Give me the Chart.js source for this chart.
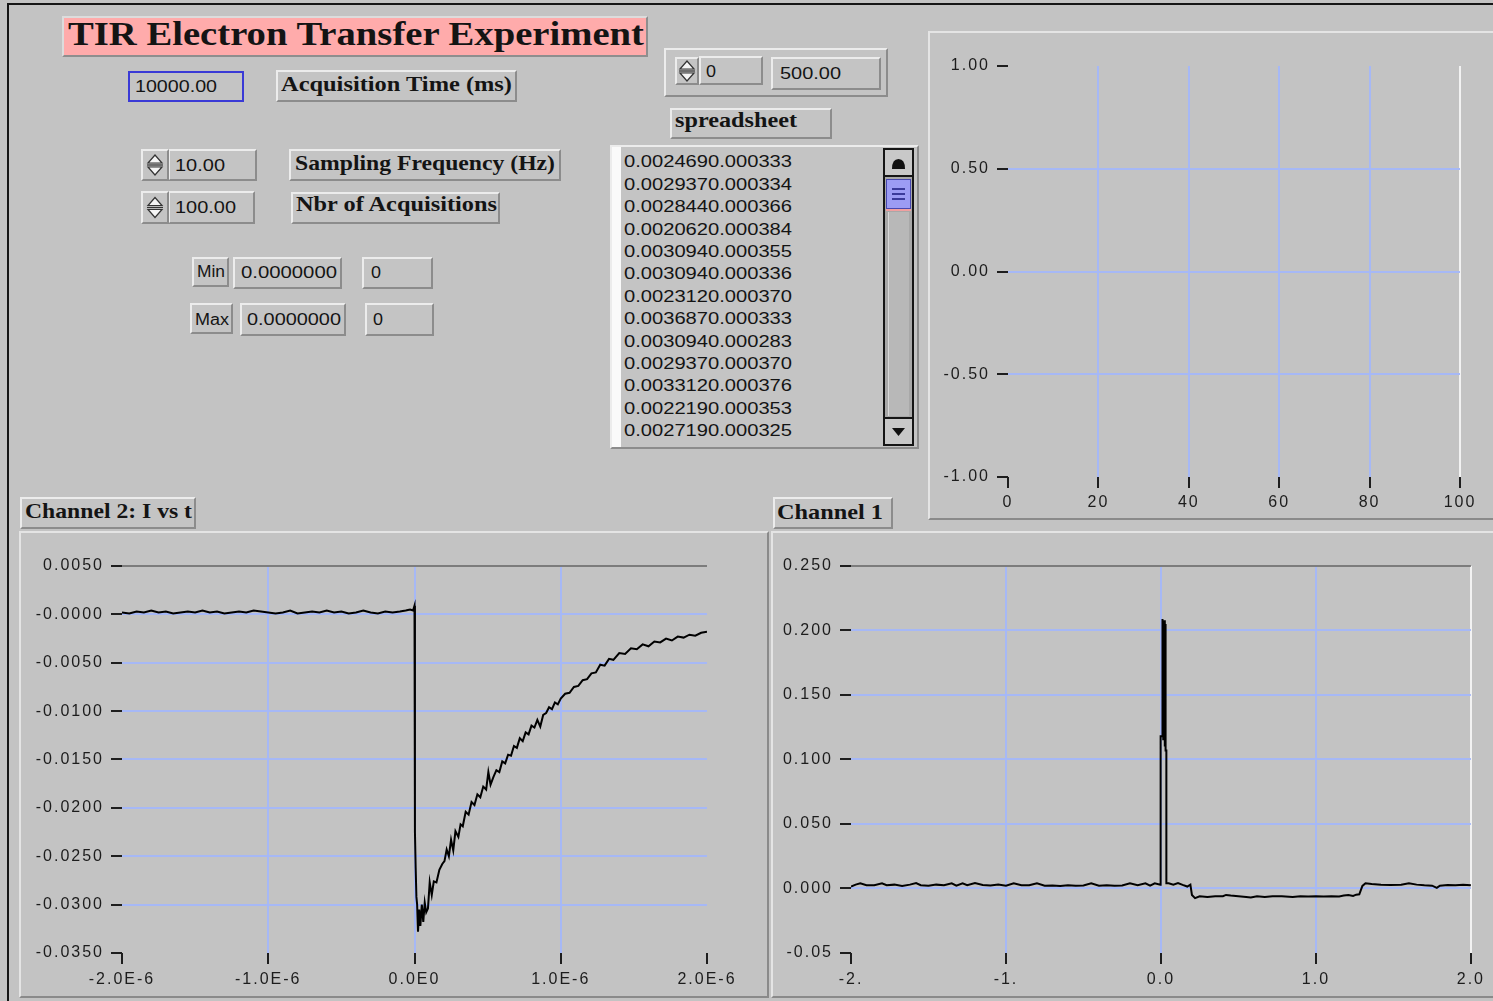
<!DOCTYPE html>
<html><head><meta charset="utf-8">
<script src="https://cdn.jsdelivr.net/npm/chart.js@4.4.0/dist/chart.umd.min.js"></script>
<style>
html,body{margin:0;padding:0;}
body{width:1493px;height:1001px;background:#c3c3c3;position:relative;overflow:hidden;}
.a{position:absolute;box-sizing:border-box;}
.raised{background:#c4c4c4;border-top:2px solid #ececec;border-left:2px solid #ececec;border-right:2px solid #8c8c8c;border-bottom:2px solid #8c8c8c;}
.panel{background:#c3c3c3;border-top:2px solid #e4e4e4;border-left:2px solid #e4e4e4;border-right:2px solid #8a8a8a;border-bottom:2px solid #8a8a8a;}
.tx{position:absolute;white-space:nowrap;color:#141414;}
canvas{position:absolute;}
</style>
</head><body>
<script>
// ---------------- data ----------------
const panelTitle = "TIR Electron Transfer Experiment";
const acquisitionTime = "10000.00";
const samplingFrequency = "10.00";
const nbrAcquisitions = "100.00";
const minValue = "0.0000000", minIndex = "0";
const maxValue = "0.0000000", maxIndex = "0";
const arrayIndex = "0", arrayValue = "500.00";
const spreadsheetRows = [
  "0.0024690.000333","0.0029370.000334","0.0028440.000366","0.0020620.000384",
  "0.0030940.000355","0.0030940.000336","0.0023120.000370","0.0036870.000333",
  "0.0030940.000283","0.0029370.000370","0.0033120.000376","0.0022190.000353",
  "0.0027190.000325"
];

// Channel 2: I vs t  (time in units of 1E-6 s, current)
const ch2Time = [
  -2.00,-1.95,-1.90,-1.85,-1.80,-1.75,-1.70,-1.65,-1.60,-1.55,-1.50,-1.45,-1.40,-1.35,-1.30,-1.25,-1.20,-1.15,-1.10,-1.05,
  -1.00,-0.95,-0.90,-0.85,-0.80,-0.75,-0.70,-0.65,-0.60,-0.55,-0.50,-0.45,-0.40,-0.35,-0.30,-0.25,-0.20,-0.15,-0.10,-0.06,
  -0.03,-0.01,0.000,0.003,0.008,0.013,0.018,0.024,0.032,0.040,0.050,0.060,0.070,0.080,0.092,0.104,0.118,0.132,0.150,0.170,
  0.190,0.205,0.220,0.235,0.250,0.265,0.280,0.300,0.315,0.330,0.350,0.370,0.390,0.410,0.430,0.450,0.470,0.490,0.505,0.520,
  0.540,0.560,0.580,0.600,0.620,0.640,0.660,0.680,0.700,0.720,0.740,0.760,0.780,0.800,0.820,0.840,0.860,0.880,0.900,0.920,
  0.940,0.960,0.980,1.000,1.030,1.060,1.090,1.120,1.150,1.180,1.210,1.240,1.270,1.300,1.330,1.360,1.400,1.440,1.480,1.520,
  1.560,1.600,1.640,1.680,1.720,1.760,1.800,1.840,1.880,1.920,1.960,2.000
];
const ch2Current = [
  0.0002,0.0001,0.0003,0.0002,0.0004,0.0002,0.0003,0.0001,0.0002,0.0003,0.0002,0.0004,0.0002,0.0003,0.0001,0.0002,0.0003,0.0002,0.0004,0.0003,
  0.0002,0.0001,0.0002,0.0004,0.0001,0.0002,0.0003,0.0002,0.0004,0.0002,0.0003,0.0001,0.0002,0.0004,0.0002,0.0001,0.0003,0.0002,0.0003,0.0004,
  0.0005,0.0004,0.0009,-0.0225,-0.0262,-0.0292,-0.0300,-0.0328,-0.0305,-0.0322,-0.0300,-0.0318,-0.0298,-0.0308,-0.0304,-0.0277,-0.0290,-0.0276,-0.0277,-0.0264,
  -0.0258,-0.0255,-0.0243,-0.0250,-0.0233,-0.0244,-0.0224,-0.0230,-0.0217,-0.0219,-0.0204,-0.0207,-0.0194,-0.0197,-0.0186,-0.0189,-0.0178,-0.0181,-0.0163,-0.0176,
  -0.0168,-0.0161,-0.0163,-0.0152,-0.0154,-0.0145,-0.0146,-0.0136,-0.0138,-0.0128,-0.0131,-0.0122,-0.0124,-0.0115,-0.0117,-0.0109,-0.0116,-0.0104,-0.0102,-0.0096,
  -0.0098,-0.0091,-0.0093,-0.0087,-0.0082,-0.0081,-0.0075,-0.0074,-0.0068,-0.0067,-0.0061,-0.0060,-0.0052,-0.0053,-0.0046,-0.0047,-0.0040,-0.0041,-0.0035,-0.0036,
  -0.0031,-0.0033,-0.0028,-0.0029,-0.0025,-0.0027,-0.0023,-0.0024,-0.0021,-0.0022,-0.0019,-0.0018
];
const ch2XTicks = [-2,-1,0,1,2];
const ch2XLabels = ["-2.0E-6","-1.0E-6","0.0E0","1.0E-6","2.0E-6"];
const ch2YTicks = [-0.035,-0.030,-0.025,-0.020,-0.015,-0.010,-0.005,0,0.005];
const ch2YLabels = ["-0.0350","-0.0300","-0.0250","-0.0200","-0.0150","-0.0100","-0.0050","-0.0000","0.0050"];

// Channel 1
const ch1Time = [
  -2.00,-1.97,-1.94,-1.90,-1.85,-1.80,-1.77,-1.72,-1.67,-1.62,-1.58,-1.55,-1.50,-1.45,-1.40,-1.35,-1.32,-1.28,-1.25,-1.20,
  -1.15,-1.10,-1.05,-1.00,-0.95,-0.90,-0.85,-0.80,-0.75,-0.70,-0.65,-0.60,-0.55,-0.50,-0.45,-0.40,-0.35,-0.30,-0.25,-0.20,
  -0.15,-0.10,-0.07,-0.04,-0.004,-0.002,-0.002,0.008,0.010,0.015,0.020,0.025,0.028,0.030,0.035,0.035,0.05,0.08,0.11,0.14,
  0.17,0.19,0.20,0.22,0.25,0.30,0.35,0.40,0.42,0.45,0.50,0.55,0.58,0.62,0.67,0.72,0.78,0.85,0.90,0.95,
  1.00,1.05,1.10,1.15,1.18,1.21,1.24,1.26,1.28,1.30,1.32,1.36,1.42,1.48,1.55,1.60,1.65,1.70,1.75,1.78,
  1.80,1.85,1.90,1.95,2.00
];
const ch1Signal = [
  0.0015,0.0030,0.0040,0.0025,0.0025,0.0040,0.0025,0.0030,0.0020,0.0030,0.0042,0.0025,0.0022,0.0030,0.0025,0.0040,0.0022,0.0040,0.0025,0.0042,
  0.0028,0.0023,0.0030,0.0022,0.0040,0.0025,0.0025,0.0040,0.0022,0.0023,0.0020,0.0025,0.0022,0.0024,0.0040,0.0022,0.0025,0.0022,0.0023,0.0040,
  0.0025,0.0040,0.0022,0.0040,0.0030,0.0030,0.1180,0.1180,0.2090,0.1150,0.2080,0.1100,0.2050,0.1070,0.1070,0.0040,0.0040,0.0030,0.0042,0.0028,
  0.0015,0.0030,-0.0050,-0.0075,-0.0060,-0.0065,-0.0060,-0.0060,-0.0050,-0.0055,-0.0060,-0.0065,-0.0070,-0.0060,-0.0065,-0.0060,-0.0060,-0.0065,-0.0060,-0.0062,
  -0.0060,-0.0062,-0.0060,-0.0062,-0.0055,-0.0050,-0.0058,-0.0048,-0.0045,0.0020,0.0040,0.0035,0.0030,0.0028,0.0030,0.0040,0.0030,0.0025,0.0022,0.0005,
  0.0022,0.0028,0.0025,0.0030,0.0025
];
const ch1XTicks = [-2,-1,0,1,2];
const ch1XLabels = ["-2.","-1.","0.0","1.0","2.0"];
const ch1YTicks = [-0.05,0,0.05,0.10,0.15,0.20,0.25];
const ch1YLabels = ["-0.05","0.000","0.050","0.100","0.150","0.200","0.250"];

// empty graph (top right)
const auxXTicks = [0,20,40,60,80,100];
const auxXLabels = ["0","20","40","60","80","100"];
const auxYTicks = [-1,-0.5,0,0.5,1];
const auxYLabels = ["-1.00","-0.50","0.00","0.50","1.00"];
</script>

<!-- outer frame -->
<div class="a" style="left:7px;top:3px;width:1500px;height:1010px;border-left:2px solid #151515;border-top:2px solid #151515;"></div>

<!-- title -->
<div class="a" style="left:62px;top:16px;width:586px;height:41px;background:#ffabab;border-top:2px solid #dcdcdc;border-left:2px solid #dcdcdc;border-right:2px solid #8e8e8e;border-bottom:2px solid #8e8e8e;"></div>

<!-- acquisition -->
<div class="a" style="left:128px;top:71px;width:116px;height:31px;background:#c4c4c4;border:2px solid #3a3ad6;"></div>
<div class="a raised" style="left:276px;top:70px;width:241px;height:32px;"></div>

<!-- sampling / nbr -->
<div class="a raised" style="left:168px;top:149px;width:89px;height:32px;"></div>
<div class="a raised" style="left:289px;top:149px;width:272px;height:32px;"></div>
<div class="a raised" style="left:168px;top:191px;width:87px;height:33px;"></div>
<div class="a raised" style="left:291px;top:192px;width:209px;height:32px;"></div>

<!-- min / max -->
<div class="a raised" style="left:192px;top:257px;width:37px;height:30px;"></div>
<div class="a raised" style="left:233px;top:257px;width:109px;height:32px;"></div>
<div class="a raised" style="left:362px;top:257px;width:71px;height:32px;"></div>
<div class="a raised" style="left:190px;top:303px;width:43px;height:31px;"></div>
<div class="a raised" style="left:240px;top:303px;width:106px;height:33px;"></div>
<div class="a raised" style="left:365px;top:303px;width:69px;height:33px;"></div>

<!-- array control -->
<div class="a raised" style="left:664px;top:48px;width:224px;height:49px;"></div>
<div class="a raised" style="left:699px;top:56px;width:64px;height:29px;"></div>
<div class="a raised" style="left:771px;top:57px;width:110px;height:33px;"></div>
<div class="a raised" style="left:670px;top:108px;width:162px;height:31px;"></div>

<!-- listbox -->
<div class="a" style="left:610px;top:145px;width:309px;height:304px;background:#c4c4c4;border-top:2px solid #ececec;border-left:2px solid #ececec;border-right:2px solid #8c8c8c;border-bottom:2px solid #8c8c8c;"></div>
<div class="a" style="left:612px;top:147px;width:9px;height:300px;background:#fafafa;"></div>
<div class="a" style="left:883px;top:148px;width:31px;height:298px;background:#a8a8a8;border:2px solid #151515;"></div>
<div class="a" style="left:885px;top:150px;width:27px;height:27px;background:#c8c8c8;border-bottom:2px solid #151515;"></div>
<svg class="a" style="left:885px;top:150px;" width="27" height="27"><path d="M7 19 Q7 9 13.5 9 Q20 9 20 19 Z" fill="#111"/></svg>
<div class="a" style="left:886px;top:179px;width:25px;height:30px;background:#9c9cf4;border:1px solid #4848b0;"></div>
<svg class="a" style="left:886px;top:179px;" width="25" height="30"><path d="M6 10 H19 M6 15 H19 M6 20 H19" stroke="#3a3a9a" stroke-width="2"/></svg>
<div class="a" style="left:886px;top:209px;width:25px;height:2px;background:#f0a0a0;"></div>
<div class="a" style="left:888px;top:212px;width:21px;height:204px;background:#b8b8b8;border-left:1px solid #d8d8d8;"></div>
<div class="a" style="left:885px;top:417px;width:27px;height:27px;background:#c8c8c8;border-top:2px solid #151515;"></div>
<svg class="a" style="left:885px;top:419px;" width="27" height="25"><path d="M7 9 H20 L13.5 17 Z" fill="#111"/></svg>

<!-- graph panels -->
<div class="a panel" style="left:928px;top:31px;width:580px;height:489px;"></div>
<div class="a panel" style="left:19px;top:531px;width:750px;height:467px;"></div>
<div class="a panel" style="left:771px;top:531px;width:740px;height:467px;"></div>
<div class="a raised" style="left:20px;top:497px;width:176px;height:32px;"></div>
<div class="a raised" style="left:773px;top:497px;width:120px;height:32px;"></div>

<canvas id="aux" width="560" height="484" style="left:930px;top:34px;"></canvas>
<canvas id="ch2" width="744" height="463" style="left:22px;top:532px;"></canvas>
<canvas id="ch1" width="719" height="463" style="left:772px;top:532px;"></canvas>

<script>
// ------------- spinners -------------
function spinner(x, y, w, h){
  const d = document.createElement('div');
  d.className = 'a raised';
  Object.assign(d.style, {left:x+'px', top:y+'px', width:w+'px', height:h+'px'});
  document.body.appendChild(d);
  const s = document.createElementNS('http://www.w3.org/2000/svg','svg');
  s.setAttribute('width', w); s.setAttribute('height', h);
  s.setAttribute('class','a'); s.style.left = x+'px'; s.style.top = y+'px';
  const cx = w/2, m = h/2;
  s.innerHTML = `<path d="M${cx-7} ${m-2} L${cx} ${m-10} L${cx+7} ${m-2} Z" fill="#f4f4f4" stroke="#333" stroke-width="1.2"/>
    <path d="M${cx-8} ${m} H${cx+8}" stroke="#333" stroke-width="1.2"/>
    <path d="M${cx-7} ${m+2} L${cx} ${m+10} L${cx+7} ${m+2} Z" fill="#f4f4f4" stroke="#333" stroke-width="1.2"/>`;
  document.body.appendChild(s);
}
spinner(141,149,28,32);
spinner(141,191,28,33);
spinner(675,57,24,28);

// ------------- text -------------
function T(text, x, cy, tw, family, size, weight){
  const s = document.createElement('span');
  s.className = 'tx'; s.textContent = text;
  s.style.fontFamily = family; s.style.fontSize = size+'px';
  s.style.fontWeight = weight || 'normal';
  s.style.lineHeight = (size*1.2)+'px';
  s.style.left = x+'px'; s.style.top = (cy - size*0.6)+'px';
  document.body.appendChild(s);
  if (tw){
    const w = s.getBoundingClientRect().width;
    s.style.transformOrigin = '0 0';
    s.style.transform = 'scaleX(' + (tw / w) + ')';
  }
  return s;
}
const SERIF = "'Liberation Serif', serif", SANS = "'Liberation Sans', sans-serif";
T(panelTitle, 68, 34.5, 576, SERIF, 33, 'bold');
T(acquisitionTime, 135, 87, 82, SANS, 16);
T("Acquisition Time (ms)", 281, 84, 231, SERIF, 22, 'bold');
T(samplingFrequency, 175, 166, 50, SANS, 16);
T("Sampling Frequency (Hz)", 295, 163, 260, SERIF, 22, 'bold');
T(nbrAcquisitions, 175, 208, 61, SANS, 16);
T("Nbr of Acquisitions", 296, 204, 201, SERIF, 22, 'bold');
T("Min", 197, 272, 28, SANS, 16);
T(minValue, 241, 273, 96, SANS, 16);
T(minIndex, 371, 273, 10, SANS, 16);
T("Max", 195, 320, 34, SANS, 16);
T(maxValue, 247, 320, 94, SANS, 16);
T(maxIndex, 373, 320, 10, SANS, 16);
T(arrayIndex, 706, 72, 10, SANS, 16);
T(arrayValue, 780, 74, 61, SANS, 16);
T("spreadsheet", 675, 121, 122, SERIF, 21, 'bold');
spreadsheetRows.forEach((r, i) => T(r, 624, 162 + i*22.4, 168, SANS, 16));
T("Channel 2: I vs t", 25, 512, 167, SERIF, 21, 'bold');
T("Channel 1", 777, 512.5, 106, SERIF, 21, 'bold');

// ------------- charts -------------
const GRID = '#a6b8f6';
const NONE = 'rgba(0,0,0,0)';
const FONT = {family: "'Liberation Sans', sans-serif", size: 16};
const spacing = {
  id: 'ls',
  beforeLayout(c){ c.ctx.letterSpacing = '2px'; },
  beforeDraw(c){ c.ctx.letterSpacing = '2px'; }
};

function makeChart(id, o){
  const ds = o.x ? [{
    data: o.x.map((t, i) => ({x: t, y: o.y[i]})),
    borderColor: '#000', borderWidth: 2, pointRadius: 0, tension: 0, fill: false
  }] : [];
  return new Chart(document.getElementById(id), {
    type: 'line',
    data: {datasets: ds},
    options: {
      animation: false, responsive: false, events: [],
      plugins: {legend: {display: false}, tooltip: {enabled: false}},
      layout: {padding: {top: o.padTop, right: o.padRight, left: 0, bottom: 0}},
      scales: {
        x: {
          type: 'linear', min: o.xTicks[0], max: o.xTicks[o.xTicks.length-1],
          afterBuildTicks: a => { a.ticks = o.xTicks.map(v => ({value: v})); },
          afterFit: a => { a.height = o.xHeight; },
          ticks: {callback: (v, i) => o.xLabels[i], font: FONT, color: '#1c1c1c', padding: o.xPad,
                  maxRotation: 0, minRotation: 0, autoSkip: false},
          grid: {color: c => o.xGrid(c.tick ? c.tick.value : null), lineWidth: 2,
                 drawTicks: true, tickLength: 11, tickWidth: 2, tickColor: '#1e1e1e'},
          border: {display: false}
        },
        y: {
          type: 'linear', min: o.yTicks[0], max: o.yTicks[o.yTicks.length-1],
          afterBuildTicks: a => { a.ticks = o.yTicks.map(v => ({value: v})); },
          afterFit: a => { a.width = o.yWidth; },
          ticks: {callback: (v, i) => o.yLabels[i], font: FONT, color: '#1c1c1c', padding: 7, autoSkip: false},
          grid: {color: c => o.yGrid(c.tick ? c.tick.value : null), lineWidth: 2,
                 drawTicks: true, tickLength: 11, tickWidth: 2, tickColor: '#1e1e1e'},
          border: {display: false}
        }
      }
    },
    plugins: [spacing]
  });
}

makeChart('aux', {
  xTicks: auxXTicks, xLabels: auxXLabels, yTicks: auxYTicks, yLabels: auxYLabels,
  xGrid: v => v === 0 ? NONE : (v === 100 ? '#f2f2f2' : GRID),
  yGrid: v => (v === 1 || v === -1) ? NONE : GRID,
  yWidth: 78, xHeight: 41, padTop: 32, padRight: 30, xPad: 5
});

makeChart('ch2', {
  x: ch2Time, y: ch2Current,
  xTicks: ch2XTicks, xLabels: ch2XLabels, yTicks: ch2YTicks, yLabels: ch2YLabels,
  xGrid: v => (v === -2 || v === 2) ? NONE : GRID,
  yGrid: v => v === 0.005 ? '#7c7c7c' : (v === -0.035 ? NONE : GRID),
  yWidth: 100, xHeight: 42, padTop: 34, padRight: 59, xPad: 6
});

makeChart('ch1', {
  x: ch1Time, y: ch1Signal,
  xTicks: ch1XTicks, xLabels: ch1XLabels, yTicks: ch1YTicks, yLabels: ch1YLabels,
  xGrid: v => v === -2 ? NONE : (v === 2 ? '#f2f2f2' : GRID),
  yGrid: v => v === 0.25 ? '#7c7c7c' : (v === -0.05 ? NONE : GRID),
  yWidth: 79, xHeight: 42, padTop: 34, padRight: 19, xPad: 6
});
</script>
</body></html>
